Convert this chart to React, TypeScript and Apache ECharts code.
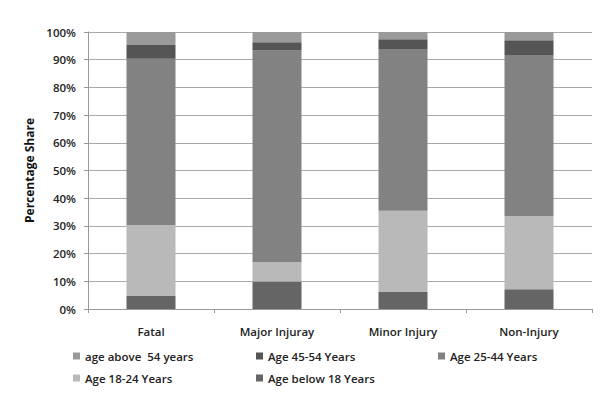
import React, { useEffect, useRef } from "react";
import * as echarts from "echarts";

const categories = ["Fatal", "Major Injuray", "Minor Injury", "Non-Injury"];
const below18 = [4.7, 9.9, 6.1, 7.1];
const age18to24 = [25.6, 7.0, 29.4, 26.5];
const age25to44 = [60.0, 76.4, 58.4, 58.1];
const age45to54 = [5.0, 3.0, 3.5, 5.3];
const above54 = [4.7, 3.7, 2.6, 3.0];
const yTicks = [0, 10, 20, 30, 40, 50, 60, 70, 80, 90, 100];

const NAMES = {
  above54: "age above  54 years",
  a4554: "Age 45-54 Years",
  a2544: "Age 25-44 Years",
  a1824: "Age 18-24 Years",
  below18: "Age below 18 Years",
};

const COLORS = {
  above54: "#9a9a9a",
  a4554: "#555555",
  a2544: "#828282",
  a1824: "#b9b9b9",
  below18: "#656565",
};

const FONT = "'Open Sans', 'DejaVu Sans', sans-serif";

export default function App() {
  const ref = useRef<HTMLDivElement>(null);
  useEffect(() => {
    if (!ref.current) return;
    const chart = echarts.init(ref.current, undefined, { renderer: "svg" });
    const mk = (key: keyof typeof NAMES, data: number[]) => ({
      name: NAMES[key],
      type: "bar",
      stack: "total",
      data,
      barWidth: 49,
      itemStyle: { color: COLORS[key] },
    });
    const legendBase = {
      orient: "vertical",
      itemWidth: 7,
      itemHeight: 7,
      itemGap: 10,
      icon: "rect",
      textStyle: { fontFamily: FONT, fontSize: 11.5, fontWeight: 600, color: "#222" },
      top: 345,
    };
    const frameAxis = {
      gridIndex: 1,
      type: "value",
      min: 0,
      max: 1,
      axisLine: { show: true, onZero: false, lineStyle: { color: "#888", width: 1 } },
      axisTick: { show: false },
      axisLabel: { show: false },
      splitLine: { show: false },
      silent: true,
    };
    chart.setOption({
      animation: false,
      backgroundColor: "#fff",
      grid: [
        { left: 88, right: 14, top: 32, bottom: 89 },
        { left: 7, right: 0, top: 5.5, bottom: 0 },
      ],
      legend: [
        { ...legendBase, left: 68, data: [NAMES.above54, NAMES.a1824] },
        { ...legendBase, left: 251, data: [NAMES.a4554, NAMES.below18] },
        { ...legendBase, left: 433, data: [NAMES.a2544] },
      ],
      xAxis: [
        {
          type: "category",
          data: categories,
          axisLine: { lineStyle: { color: "#999" } },
          axisTick: { show: true, length: 4, lineStyle: { color: "#999" } },
          axisLabel: { fontFamily: FONT, fontSize: 11.5, fontWeight: 600, color: "#222", margin: 16 },
        },
        { ...frameAxis, position: "top" },
      ],
      yAxis: [
        {
          type: "value",
          min: 0,
          max: 100,
          interval: 10,
          name: "Percentage Share",
          nameLocation: "middle",
          nameGap: 51,
          nameTextStyle: { fontFamily: FONT, fontSize: 12, fontWeight: "bold", color: "#111" },
          axisLine: { show: true, lineStyle: { color: "#999" } },
          axisTick: { show: true, length: 4, inside: false, lineStyle: { color: "#999" } },
          splitLine: { lineStyle: { color: "#aaa" } },
          axisLabel: {
            fontFamily: FONT,
            fontSize: 11.5,
            fontWeight: 600,
            color: "#222",
            margin: 12,
            formatter: (v: number) => (yTicks.includes(v) ? `${v}%` : ""),
          },
        },
        { ...frameAxis, position: "left", axisLine: { show: true, onZero: false, lineStyle: { color: "#888", width: 2 } } },
      ],
      series: [
        mk("below18", below18),
        mk("a1824", age18to24),
        mk("a2544", age25to44),
        mk("a4554", age45to54),
        mk("above54", above54),
      ],
    });
    return () => chart.dispose();
  }, []);
  return <div ref={ref} style={{ width: 606, height: 398, margin: -8 }} />;
}
